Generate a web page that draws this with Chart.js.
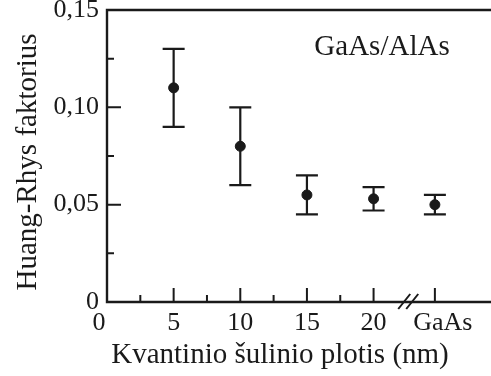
<!DOCTYPE html>
<html>
<head>
<meta charset="utf-8">
<style>
  html, body { margin: 0; padding: 0; background: #fff; }
</style>
<script src="https://cdn.jsdelivr.net/npm/chart.js@4"></script>
</head>
<body>
<canvas id="chart" width="491" height="376"></canvas>
<script>
// well widths (nm); the last point is bulk GaAs, drawn past the axis break
const widths = [5, 10, 15, 20, 24.6];
const huangRhys = [0.110, 0.080, 0.055, 0.053, 0.050];
const errLow = [0.090, 0.060, 0.045, 0.047, 0.045];
const errHigh = [0.130, 0.100, 0.065, 0.059, 0.055];

const xTickValues = [0, 5, 10, 15, 20, 24.6];
const xLabelValues = [-0.6, 5, 10, 15, 20, 25.2];
const xTickLabels = ["0", "5", "10", "15", "20", "GaAs"];
const xMinorTicks = [2.5, 7.5, 12.5, 17.5];
const yTickValues = [0, 0.05, 0.10, 0.15];
const yTickLabels = ["0", "0,05", "0,10", "0,15"];
const yMinorTicks = [0.025, 0.075, 0.125];

const xBreak = 22.6;
const ink = "#1a1a1a";
const serif = "'Liberation Serif', 'Times New Roman', serif";

const points = widths.map((x, i) => ({ x: x, y: huangRhys[i] }));

const errorBars = {
  id: "errorBars",
  beforeDatasetsDraw(chart) {
    const ctx = chart.ctx;
    const xs = chart.scales.x;
    const ys = chart.scales.y;
    ctx.save();
    ctx.strokeStyle = ink;
    ctx.lineWidth = 2.2;
    widths.forEach((w, i) => {
      const px = xs.getPixelForValue(w);
      const top = ys.getPixelForValue(errHigh[i]);
      const bot = ys.getPixelForValue(errLow[i]);
      ctx.beginPath();
      ctx.moveTo(px, top);
      ctx.lineTo(px, bot);
      ctx.moveTo(px - 11, top);
      ctx.lineTo(px + 11, top);
      ctx.moveTo(px - 11, bot);
      ctx.lineTo(px + 11, bot);
      ctx.stroke();
    });
    ctx.restore();
  },
};

const frame = {
  id: "frame",
  afterDraw(chart) {
    const ctx = chart.ctx;
    const a = chart.chartArea;
    const xs = chart.scales.x;
    const ys = chart.scales.y;
    ctx.save();
    ctx.strokeStyle = ink;
    ctx.lineWidth = 2.4;
    ctx.beginPath();
    ctx.moveTo(chart.width, a.top);
    ctx.lineTo(a.left, a.top);
    ctx.lineTo(a.left, a.bottom);
    ctx.lineTo(chart.width, a.bottom);
    ctx.stroke();

    // inward ticks
    ctx.lineWidth = 2;
    ctx.beginPath();
    xTickValues.forEach((v) => {
      if (v === 0) return;
      const px = xs.getPixelForValue(v);
      ctx.moveTo(px, a.bottom);
      ctx.lineTo(px, a.bottom - 14);
    });
    xMinorTicks.forEach((v) => {
      const px = xs.getPixelForValue(v);
      ctx.moveTo(px, a.bottom);
      ctx.lineTo(px, a.bottom - 7);
    });
    yTickValues.forEach((v) => {
      if (v === 0) return;
      const py = ys.getPixelForValue(v);
      ctx.moveTo(a.left, py);
      ctx.lineTo(a.left + 14, py);
    });
    yMinorTicks.forEach((v) => {
      const py = ys.getPixelForValue(v);
      ctx.moveTo(a.left, py);
      ctx.lineTo(a.left + 7, py);
    });
    ctx.stroke();

    // axis break "//"
    const bx = xs.getPixelForValue(xBreak);
    ctx.lineWidth = 2;
    ctx.beginPath();
    [-4, 4].forEach((d) => {
      ctx.moveTo(bx + d - 6, a.bottom + 7);
      ctx.lineTo(bx + d + 6, a.bottom - 8);
    });
    ctx.stroke();

    ctx.fillStyle = ink;
    ctx.font = "29px " + serif;
    ctx.textAlign = "center";
    ctx.textBaseline = "alphabetic";
    ctx.fillText("GaAs/AlAs", 382, 55);
    ctx.fillText("Kvantinio šulinio plotis (nm)", 280, 363);
    ctx.translate(36, 162);
    ctx.rotate(-Math.PI / 2);
    ctx.fillText("Huang-Rhys faktorius", 0, 0);
    ctx.restore();
  },
};

new Chart(document.getElementById("chart"), {
  type: "scatter",
  data: {
    datasets: [
      {
        data: points,
        backgroundColor: ink,
        borderColor: ink,
        pointRadius: 5,
        pointHoverRadius: 5,
      },
    ],
  },
  options: {
    responsive: false,
    animation: false,
    devicePixelRatio: 1,
    layout: { padding: { top: 10, right: 0, left: 0, bottom: 0 } },
    plugins: {
      legend: { display: false },
      tooltip: { enabled: false },
    },
    scales: {
      x: {
        type: "linear",
        min: 0,
        max: 28.36,
        grid: { display: false, drawTicks: false },
        border: { display: false },
        afterBuildTicks: (s) => {
          s.ticks = xLabelValues.map((v) => ({ value: v }));
        },
        afterFit: (s) => {
          s.height = 74;
          s.paddingLeft = 0;
          s.paddingRight = 0;
        },
        ticks: {
          padding: 6,
          color: ink,
          font: { family: serif, size: 26 },
          maxRotation: 0,
          autoSkip: false,
          callback: (v, i) => xTickLabels[i],
        },
      },
      y: {
        min: 0,
        max: 0.15,
        grid: { display: false, drawTicks: false },
        border: { display: false },
        afterBuildTicks: (s) => {
          s.ticks = yTickValues.map((v) => ({ value: v }));
        },
        afterFit: (s) => {
          s.width = 107;
          s.paddingTop = 0;
          s.paddingBottom = 0;
        },
        ticks: {
          padding: 8,
          color: ink,
          font: { family: serif, size: 26 },
          autoSkip: false,
          callback: (v, i) => yTickLabels[i],
        },
      },
    },
  },
  plugins: [errorBars, frame],
});
</script>
</body>
</html>
